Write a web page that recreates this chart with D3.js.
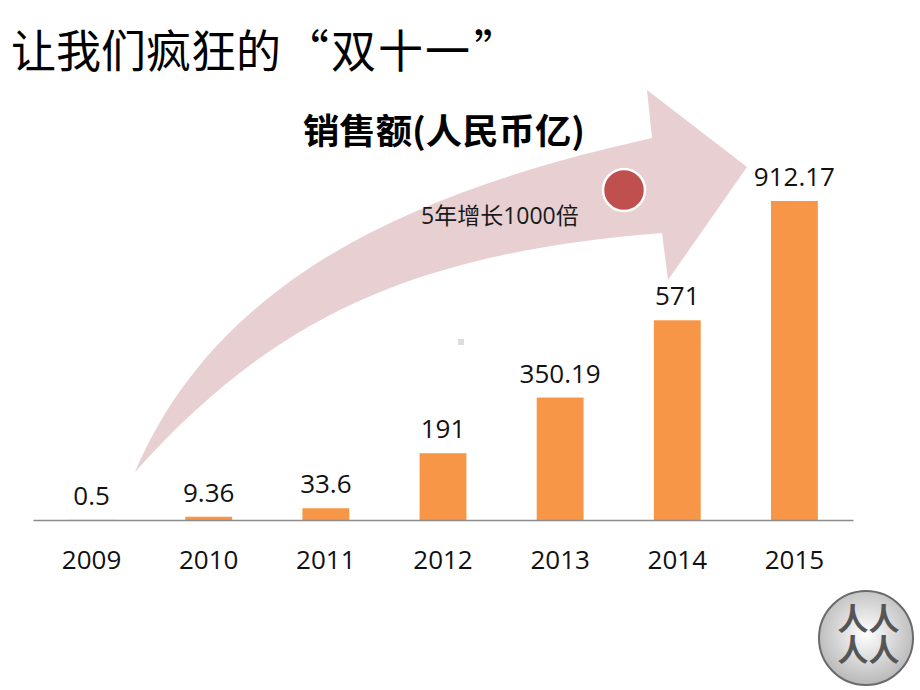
<!DOCTYPE html>
<html>
<head>
<meta charset="utf-8">
<script src="https://cdn.jsdelivr.net/npm/d3@7"></script>
<style>
  html, body { margin: 0; padding: 0; background: #ffffff; }
  svg { display: block; }
</style>
</head>
<body>
<svg id="chart" width="920" height="690"></svg>
<script>
// ---- data ----
const years = ["2009", "2010", "2011", "2012", "2013", "2014", "2015"];
const sales = [0.5, 9.36, 33.6, 191, 350.19, 571, 912.17];
const valueLabels = ["0.5", "9.36", "33.6", "191", "350.19", "571", "912.17"];
const pageTitleParts = ["让我们疯狂的", "“", "双十一", "”"];
const chartTitle = "销售额(人民币亿)";
const growthNote = "5年增长1000倍";
const logoColumns = ["人人", "人人"];

// ---- layout ----
const axisY = 520;
const svg = d3.select("#chart");

const x = d3.scaleBand().domain(years).range([33, 853]).paddingInner(0.6).paddingOuter(0.3);
const y = d3.scaleLinear().domain([0, 912.17]).range([axisY, 201]);

// ---- decorative curved arrow (background) ----
const arrow = d3.path();
arrow.moveTo(135, 472);
arrow.bezierCurveTo(222.5, 265.5, 439.5, 185.5, 652, 138);
arrow.lineTo(647, 90);
arrow.lineTo(747, 167);
arrow.lineTo(668, 280);
arrow.lineTo(662, 233);
arrow.bezierCurveTo(414, 253, 275, 316, 135, 472);
arrow.closePath();
svg.append("path").attr("d", arrow.toString()).attr("fill", "#e8d0d2");

// small grey speck
svg.append("rect").attr("x", 458).attr("y", 339).attr("width", 6).attr("height", 6).attr("fill", "#dddddd");

// red dot
svg.append("circle").attr("cx", 624).attr("cy", 190).attr("r", 21)
  .attr("fill", "#c0504d").attr("stroke", "#ffffff").attr("stroke-width", 2.5);

// growth note
svg.append("text").attr("x", 421).attr("y", 224)
  .attr("font-family", "'Open Sans','Noto Sans CJK SC',sans-serif")
  .attr("font-size", 23).attr("fill", "#1a1a1a").text(growthNote);

// ---- titles ----
const title = svg.append("text").attr("y", 68)
  .attr("font-family", "'Noto Sans CJK SC',sans-serif")
  .attr("font-size", 45).attr("font-weight", 400).attr("fill", "#000");
const titleX = [11, 284, 331, 474];
title.selectAll("tspan").data(pageTitleParts).join("tspan")
  .attr("x", (d, i) => titleX[i])
  .attr("letter-spacing", (d, i) => i === 2 ? 2 : 0)
  .text(d => d);

svg.append("text").attr("x", 303).attr("y", 144)
  .attr("font-family", "'Noto Sans CJK SC',sans-serif")
  .attr("font-size", 35).attr("font-weight", 700).attr("fill", "#000")
  .attr("textLength", 282).attr("lengthAdjust", "spacingAndGlyphs")
  .text(chartTitle);

// ---- bars ----
svg.append("g").selectAll("rect").data(years).join("rect")
  .attr("x", d => x(d))
  .attr("width", x.bandwidth())
  .attr("y", (d, i) => y(sales[i]))
  .attr("height", (d, i) => axisY - y(sales[i]))
  .attr("fill", "#f79646");

// value labels
svg.append("g").selectAll("text").data(years).join("text")
  .attr("x", d => x(d) + x.bandwidth() / 2)
  .attr("y", (d, i) => y(sales[i]) - 15)
  .attr("text-anchor", "middle")
  .attr("font-family", "'Open Sans',sans-serif")
  .attr("font-size", 26).attr("fill", "#111")
  .text((d, i) => valueLabels[i]);

// ---- x axis ----
const axis = svg.append("g").attr("transform", `translate(0,${axisY})`)
  .call(d3.axisBottom(x).tickSize(0).tickPadding(0));
axis.select(".domain").attr("stroke", "#8c8c8c").attr("stroke-width", 1.5);
axis.selectAll(".tick text")
  .attr("y", 49).attr("dy", 0)
  .attr("font-family", "'Open Sans',sans-serif")
  .attr("font-size", 26).attr("fill", "#111");

// ---- logo bottom-right ----
const defs = svg.append("defs");
const grad = defs.append("radialGradient").attr("id", "logoGrad")
  .attr("cx", "50%").attr("cy", "45%").attr("r", "55%");
grad.append("stop").attr("offset", "0%").attr("stop-color", "#ffffff");
grad.append("stop").attr("offset", "100%").attr("stop-color", "#b8b8b8");
svg.append("circle").attr("cx", 866).attr("cy", 638).attr("r", 47)
  .attr("fill", "url(#logoGrad)").attr("stroke", "#6a6a6a").attr("stroke-width", 2);
const logoX = [853, 884];
svg.append("g").selectAll("text").data(logoColumns).join("text")
  .attr("x", (d, i) => logoX[i]).attr("y", 634)
  .attr("writing-mode", "vertical-rl")
  .attr("text-anchor", "middle")
  .attr("font-family", "'Noto Sans CJK SC',sans-serif")
  .attr("font-size", 31).attr("font-weight", 700).attr("fill", "#555")
  .text(d => d);
</script>
</body>
</html>
